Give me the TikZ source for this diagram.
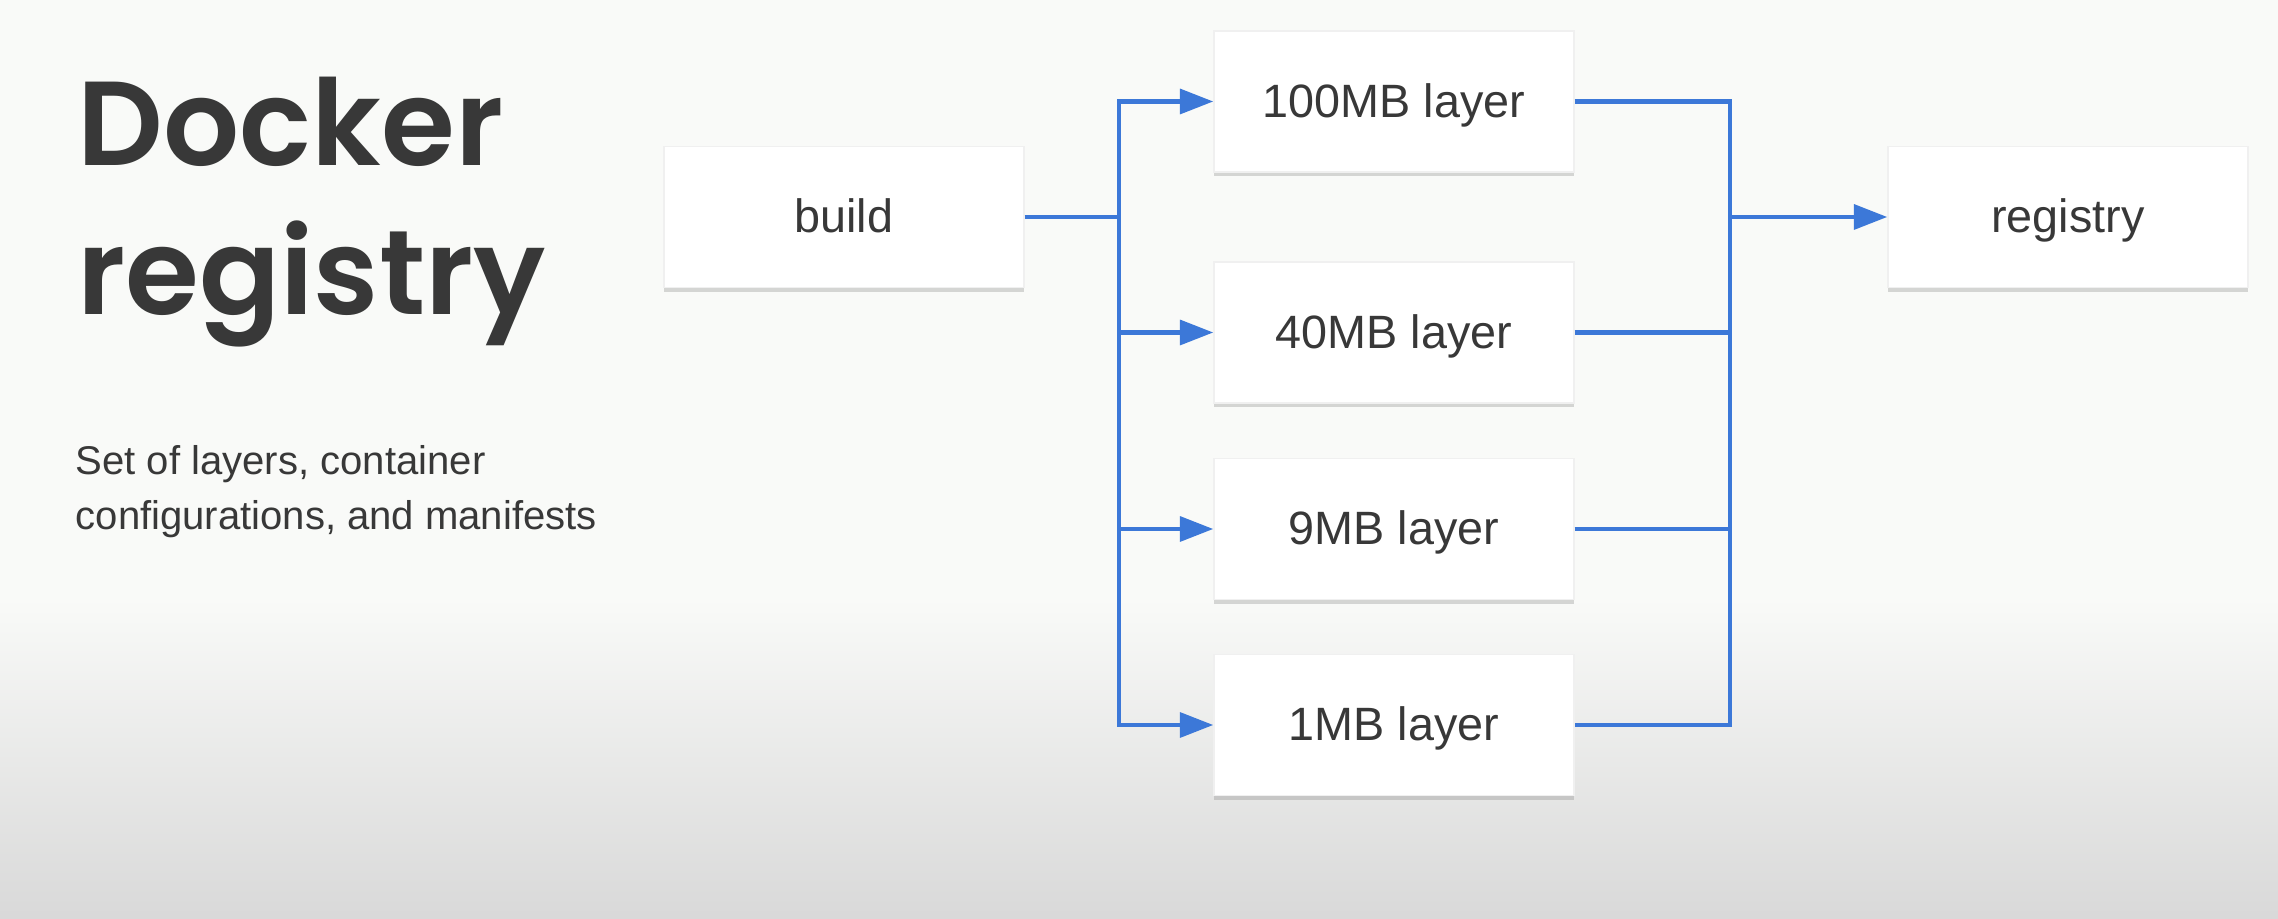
\documentclass[tikz,border=0pt]{standalone}
\usepackage{fontspec}
\setmainfont{Liberation Sans}
\newfontfamily\titlefont{Poppins SemiBold}
\usetikzlibrary{
  arrows.meta,
  calc,
  shadows,
}
\definecolor{slidebg}{HTML}{F9FAF8}
\definecolor{wireblue}{HTML}{3C78D8}
\definecolor{inkgray}{HTML}{383838}
\tikzset{
  >={Triangle[length=9.5pt,width=7pt]},
  wire/.style={draw=wireblue, line width=1.3pt},
  layerbox/.style={rectangle, fill=white, draw=black!6, line width=0.4pt,
    minimum width=3.6cm, minimum height=1.41cm, text=inkgray,
    text height=0.89em, text depth=0pt,
    font=\fontsize{13.3}{16}\selectfont,
    drop shadow={shadow xshift=0pt, shadow yshift=-1.2pt, opacity=0.3}},
}

\begin{document}
\begin{tikzpicture}

        \fill [slidebg] (0,0) rectangle (22.78,9.18);

        \shade [top color=slidebg, bottom color=black!15] (0,0) rectangle (22.78,3.2);

        \useasboundingbox (0,0) rectangle (22.78,9.18);

        \node [anchor=base west, inner sep=0, text=inkgray,
               font=\titlefont\fontsize{34}{42}\selectfont] (title1) at (0.77,7.52) {Docker};

        \node [anchor=base west, inner sep=0, text=inkgray,
               font=\titlefont\fontsize{34}{42}\selectfont] (title2) at (0.77,6.03) {registry};

        \node [anchor=base west, inner sep=0, align=left, text=inkgray,
               font=\fontsize{11.4}{15.7}\selectfont] (subtitle) at (0.75,3.88)
              {Set of layers, container\\configurations, and manifests};

        \node [layerbox] (build) at (8.44,7.01) {build};

        \node [layerbox] (registry) at (20.68,7.01) {registry};

        \foreach \name/\y/\size in {l1/8.165/100MB, l2/5.855/40MB, l3/3.89/9MB, l4/1.93/1MB} {
          \node [layerbox] (\name) at (13.94,\y) {\size\ layer};
        }

        \coordinate (split) at (11.19,7.01);
        \coordinate (merge) at (17.30,7.01);

        \draw [wire] (build) -- (split);

        \draw [wire, <->] (l1.west) -- (split |- l1.west) -- (split |- l4.west) -- (l4.west);

        \foreach \name in {l2,l3} {
          \draw [wire, ->] (split |- \name.west) -- (\name.west);
        }

        \draw [wire] (l1.east) -- (merge |- l1.east) -- (merge |- l4.east) -- (l4.east);

        \foreach \name in {l2,l3} {
          \draw [wire] (\name.east) -- (merge |- \name.east);
        }

        \draw [wire, ->] (merge) -- (registry);
      \end{tikzpicture}
\end{document}
